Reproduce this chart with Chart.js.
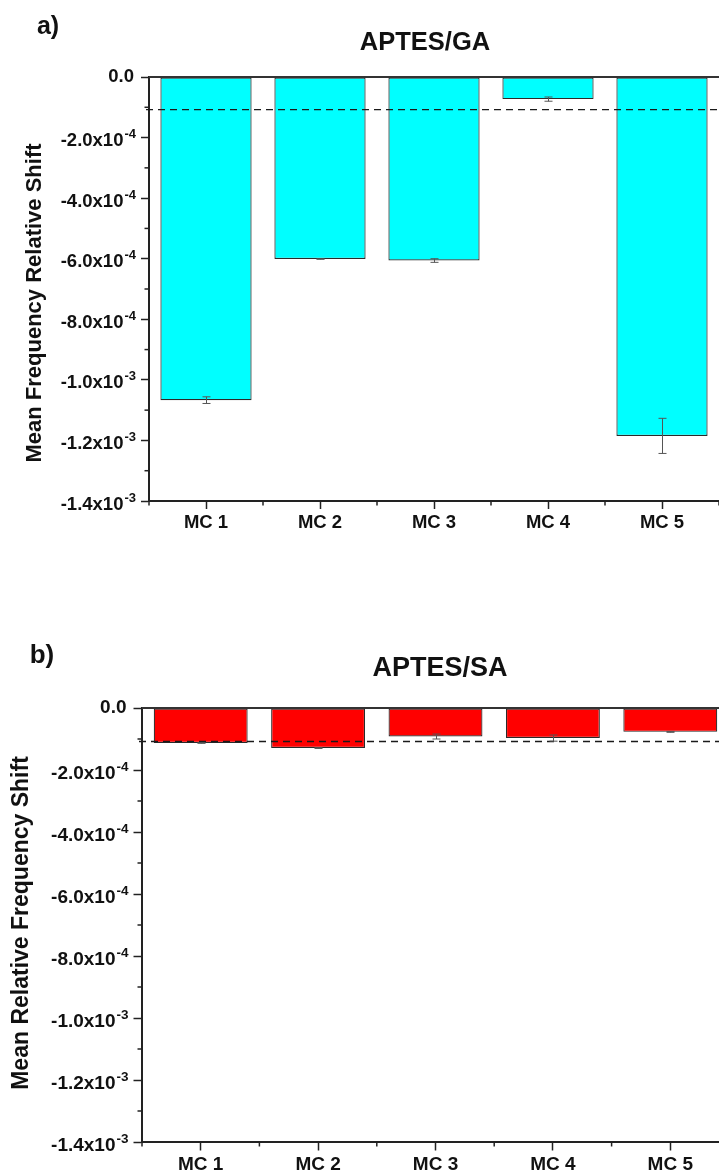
<!DOCTYPE html>
<html>
<head>
<meta charset="utf-8">
<script src="https://cdn.jsdelivr.net/npm/chart.js@4/dist/chart.umd.min.js"></script>
<style>
  html, body { margin: 0; padding: 0; background: #fff; overflow: hidden; width: 719px; height: 1176px; }
  canvas { position: absolute; left: 0; display: block; }
  #gaChart { top: 0; }
  #saChart { top: 588px; }
</style>
</head>
<body>
<canvas id="gaChart" width="719" height="588"></canvas>
<canvas id="saChart" width="730" height="588"></canvas>
<script>
// Microcantilevers
const categories = ['MC 1', 'MC 2', 'MC 3', 'MC 4', 'MC 5'];

// APTES/GA functionalisation: mean relative frequency shift and its error
const gaMeans  = [-1.067e-3, -6.01e-4, -6.06e-4, -7.3e-5, -1.185e-3];
const gaErrors = [1.1e-5, 1.0e-6, 6.0e-6, 7.0e-6, 5.8e-5];

// APTES/SA functionalisation
const saMeans  = [-1.13e-4, -1.29e-4, -0.92e-4, -0.97e-4, -0.77e-4];
const saErrors = [1.0e-6, 1.5e-6, 8.0e-6, 1.0e-5, 1.5e-6];

// Noise threshold (dashed reference line)
const gaThreshold = -1.08e-4;
const saThreshold = -1.08e-4;

// Y axis ticks: value, mantissa text and power-of-ten exponent
const yTickValues    = [0, -2e-4, -4e-4, -6e-4, -8e-4, -1.0e-3, -1.2e-3, -1.4e-3];
const yTickMantissas = ['0.0', '-2.0x10', '-4.0x10', '-6.0x10', '-8.0x10', '-1.0x10', '-1.2x10', '-1.4x10'];
const yTickExponents = ['', '-4', '-4', '-4', '-4', '-3', '-3', '-3'];

const FONT = "'Liberation Sans', Arial, Helvetica, sans-serif";
const INK = '#111';

// Frame, threshold line, error bars, minor ticks and all annotation text
const panelDecor = {
  id: 'panelDecor',
  beforeDraw(chart) {
    const ctx = chart.ctx;
    ctx.save();
    ctx.fillStyle = '#fff';
    ctx.fillRect(0, 0, chart.width, chart.height);
    ctx.restore();
  },
  afterDatasetsDraw(chart, args, o) {
    const ctx = chart.ctx;
    const { left, right } = chart.chartArea;
    const ys = chart.scales.y;

    // threshold
    const yn = ys.getPixelForValue(o.threshold);
    ctx.save();
    ctx.strokeStyle = '#1a1a1a';
    ctx.lineWidth = 1.3;
    ctx.setLineDash([7, 5]);
    ctx.beginPath();
    ctx.moveTo(left - 3, yn);
    ctx.lineTo(right, yn);
    ctx.stroke();
    ctx.restore();

    // error bars
    const meta = chart.getDatasetMeta(0);
    ctx.save();
    ctx.strokeStyle = '#555';
    ctx.lineWidth = 1;
    meta.data.forEach((bar, i) => {
      const m = o.means[i], e = o.errors[i];
      const y1 = ys.getPixelForValue(m + e);
      const y2 = ys.getPixelForValue(m - e);
      const x = Math.round(bar.x) + 0.5;
      const cap = 4;
      ctx.beginPath();
      ctx.moveTo(x, y1); ctx.lineTo(x, y2);
      ctx.moveTo(x - cap, y1); ctx.lineTo(x + cap, y1);
      ctx.moveTo(x - cap, y2); ctx.lineTo(x + cap, y2);
      ctx.stroke();
    });
    ctx.restore();
  },
  afterDraw(chart, args, o) {
    const ctx = chart.ctx;
    const { left, right, top, bottom } = chart.chartArea;
    const ys = chart.scales.y, xs = chart.scales.x;

    ctx.save();
    // top frame line
    ctx.strokeStyle = '#333';
    ctx.lineWidth = 2;
    ctx.beginPath();
    ctx.moveTo(left, top);
    ctx.lineTo(right + 2, top);
    ctx.stroke();

    // minor ticks on the y axis (midway between labelled ticks)
    ctx.strokeStyle = '#222';
    ctx.lineWidth = 1.5;
    for (let i = 0; i < yTickValues.length - 1; i++) {
      const yp = ys.getPixelForValue((yTickValues[i] + yTickValues[i + 1]) / 2);
      ctx.beginPath();
      ctx.moveTo(left - 4.5, yp);
      ctx.lineTo(left, yp);
      ctx.stroke();
    }
    // minor ticks on the x axis (category boundaries)
    const n = categories.length;
    const p0 = xs.getPixelForValue(0), p1 = xs.getPixelForValue(1);
    const step = p1 - p0;
    for (let i = 0; i <= n; i++) {
      const xp = p0 - step / 2 + i * step;
      ctx.beginPath();
      ctx.moveTo(xp, bottom);
      ctx.lineTo(xp, bottom + 4.5);
      ctx.stroke();
    }

    // y tick labels with superscript exponents
    ctx.fillStyle = INK;
    const labelRight = left - o.tickLen - 5;
    yTickValues.forEach((v, i) => {
      const yp = ys.getPixelForValue(v);
      const man = yTickMantissas[i], ex = yTickExponents[i];
      if (!ex) {
        ctx.font = `bold ${o.tickSize}px ${FONT}`;
        ctx.textAlign = 'right';
        ctx.textBaseline = 'middle';
        ctx.fillText(man, labelRight - 2, yp);
        return;
      }
      ctx.font = `bold ${o.supSize}px ${FONT}`;
      const supW = ctx.measureText(ex).width;
      ctx.textAlign = 'left';
      ctx.textBaseline = 'alphabetic';
      ctx.fillText(ex, labelRight - supW, yp + 0.5);
      ctx.font = `bold ${o.tickSize}px ${FONT}`;
      ctx.textAlign = 'right';
      ctx.fillText(man, labelRight - supW - 1, yp + 8.5);
    });

    // y axis title
    ctx.save();
    ctx.translate(o.axisTitleX, o.axisTitleY);
    ctx.rotate(-Math.PI / 2);
    ctx.font = `bold ${o.axisTitleSize}px ${FONT}`;
    ctx.textAlign = 'center';
    ctx.textBaseline = 'middle';
    ctx.fillText(o.axisTitle, 0, 0);
    ctx.restore();

    // chart title
    ctx.font = `bold ${o.titleSize}px ${FONT}`;
    ctx.textAlign = 'center';
    ctx.textBaseline = 'middle';
    ctx.fillText(o.title, o.titleX, o.titleY);

    // panel tag
    ctx.font = `bold ${o.tagSize}px ${FONT}`;
    ctx.fillText(o.tag, o.tagX, o.tagY);
    ctx.restore();
  }
};

function buildPanel(canvasId, means, errors, color, threshold, text, geo) {
  const canvas = document.getElementById(canvasId);
  return new Chart(canvas, {
    type: 'bar',
    data: {
      labels: categories,
      datasets: [{
        data: means,
        backgroundColor: color,
        borderColor: '#2a2a2a',
        borderWidth: 1.2,
        borderSkipped: false,
        categoryPercentage: 0.8,
        barPercentage: 1.0
      }]
    },
    options: {
      responsive: false,
      maintainAspectRatio: false,
      animation: false,
      devicePixelRatio: 1,
      layout: { padding: { left: 0, right: geo.padRight, top: geo.top, bottom: 0 } },
      plugins: {
        legend: { display: false },
        tooltip: { enabled: false },
        title: { display: false },
        panelDecor: {
          means: means,
          errors: errors,
          threshold: threshold,
          tickLen: geo.tickLen,
          tickSize: geo.tickSize,
          supSize: geo.supSize,
          axisTitle: text.axisTitle,
          axisTitleSize: geo.axisTitleSize,
          axisTitleX: geo.axisTitleX,
          axisTitleY: geo.axisTitleY,
          title: text.title,
          titleSize: geo.titleSize,
          titleX: geo.titleX,
          titleY: geo.titleY,
          tag: text.tag,
          tagSize: geo.tagSize,
          tagX: geo.tagX,
          tagY: geo.tagY
        }
      },
      scales: {
        x: {
          type: 'category',
          offset: true,
          grid: {
            offset: false,
            drawOnChartArea: false,
            drawTicks: true,
            tickLength: geo.tickLen,
            tickColor: '#222',
            tickWidth: 1.5
          },
          border: { display: true, color: '#222', width: 2 },
          ticks: {
            color: INK,
            padding: 3,
            maxRotation: 0,
            autoSkip: false,
            font: { family: FONT, size: geo.catSize, weight: 'bold' }
          },
          afterFit(scale) { scale.height = geo.canvasH - geo.bottom; }
        },
        y: {
          type: 'linear',
          min: -1.4e-3,
          max: 0,
          grid: {
            drawOnChartArea: false,
            drawTicks: true,
            tickLength: geo.tickLen,
            tickColor: '#222',
            tickWidth: 1.5
          },
          border: { display: true, color: '#222', width: 2 },
          ticks: { display: false },
          afterBuildTicks(scale) { scale.ticks = yTickValues.map(v => ({ value: v })); },
          afterFit(scale) { scale.width = geo.left; }
        }
      }
    },
    plugins: [panelDecor]
  });
}

buildPanel('gaChart', gaMeans, gaErrors, '#00FFFF', gaThreshold,
  { title: 'APTES/GA', tag: 'a)', axisTitle: 'Mean Frequency Relative Shift' },
  { canvasH: 588, left: 149, top: 77, bottom: 501, padRight: 0, tickLen: 8,
    tickSize: 18.5, supSize: 13, catSize: 18.5, axisTitleSize: 22,
    axisTitleX: 35, axisTitleY: 303, titleSize: 25.5, titleX: 425, titleY: 43,
    tagSize: 25, tagX: 48, tagY: 27 });

buildPanel('saChart', saMeans, saErrors, '#FF0000', saThreshold,
  { title: 'APTES/SA', tag: 'b)', axisTitle: 'Mean Relative Frequency Shift' },
  { canvasH: 588, left: 142, top: 120, bottom: 554, padRight: 1, tickLen: 8.5,
    tickSize: 19, supSize: 13.5, catSize: 19, axisTitleSize: 23,
    axisTitleX: 22, axisTitleY: 335, titleSize: 27, titleX: 440, titleY: 81,
    tagSize: 26, tagX: 42, tagY: 68 });
</script>
</body>
</html>
